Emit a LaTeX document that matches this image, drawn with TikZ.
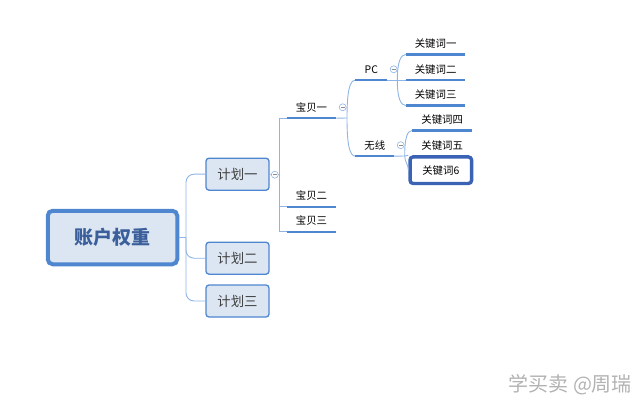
\documentclass[tikz,border=0pt]{standalone}
\usepackage{fontspec}
\setmainfont{Noto Sans CJK SC}
\definecolor{boxfill}{HTML}{DCE6F2}
\definecolor{boxline}{HTML}{4F86D0}
\definecolor{connline}{HTML}{8FB4E6}
\definecolor{rootink}{HTML}{3A5F9A}
\definecolor{pickline}{HTML}{3A62B5}
\tikzset{
  rootbox/.style={draw=boxline,fill=boxfill,line width=4pt,rounded corners=5pt,minimum width=129.5pt,minimum height=53.5pt,inner sep=0pt,text=rootink,font=\fontsize{19}{20}\selectfont\bfseries},
  planbox/.style={draw=boxline,fill=boxfill,line width=1.3pt,rounded corners=3pt,minimum width=63pt,minimum height=32pt,inner sep=0pt,text=black!75,font=\fontsize{13.4}{14}\selectfont},
  topic/.style={minimum height=21pt,inner sep=0pt,font=\fontsize{10.4}{11}\selectfont},
  pickbox/.style={draw=pickline,line width=3.4pt,rounded corners=3pt,minimum width=61.5pt,minimum height=26.5pt,inner sep=0pt,fill=white,font=\fontsize{10.4}{11}\selectfont},
  conn/.style={draw=connline,line width=0.9pt},
  under/.style={draw=boxline,line width=2.2pt},
  collapse/.style={circle,draw=connline,fill=white,line width=0.6pt,minimum size=7pt,inner sep=0pt,
    path picture={\draw[black!45,line width=0.5pt] ([xshift=-1.8pt]path picture bounding box.center)--([xshift=1.8pt]path picture bounding box.center);}}
}
\begin{document}
\begin{tikzpicture}[x=1pt,y=-1pt]
  \useasboundingbox (0,0) rectangle (640,401);
  \node[rootbox] (root) at (112.5,237.5) {账户权重};
  \node[planbox] (plana) at (237.5,174.2) {计划一};
  \node[planbox] (planb) at (237.5,258.2) {计划二};
  \node[planbox] (planc) at (237.5,301) {计划三};

  \node[topic,minimum width=49.4pt] (itema) at (311.5,107.5) {宝贝一};
  \node[topic,minimum width=49.4pt] (itemb) at (311.5,196) {宝贝二};
  \node[topic,minimum width=49.4pt] (itemc) at (311.5,221) {宝贝三};
  \node[topic,minimum width=31.3pt] (pc) at (371.3,69.5) {PC};
  \node[topic,minimum width=38.3pt] (wifi) at (374.8,145.5) {无线};

  \node[topic,minimum width=59.3pt] (worda) at (435.6,43.8) {关键词一};
  \node[topic,minimum width=59.3pt] (wordb) at (435.6,69.5) {关键词二};
  \node[topic,minimum width=59.3pt] (wordc) at (435.6,94.8) {关键词三};
  \node[topic,minimum width=59.6pt] (wordd) at (442.2,119.8) {关键词四};
  \node[topic,minimum width=59.6pt] (worde) at (442.2,145.5) {关键词五};

  \coordinate (rootbus) at (186,237.5);
  \coordinate (itembus) at (279.6,174.5);
  \coordinate (itemhub) at (347,118);
  \coordinate (pchub) at (397.3,80);
  \coordinate (wifihub) at (404.7,156);

  \draw[conn] (root.east)--(rootbus);
  \draw[conn,rounded corners=8pt] (rootbus) |- (plana.west);
  \draw[conn,rounded corners=8pt] (rootbus) |- (planb.west);
  \draw[conn,rounded corners=8pt] (rootbus) |- (planc.west);

  \draw[conn] (plana.east)--(itembus);
  \draw[conn] (itema.south west) -| (itembus |- itemc.south west) -- (itemc.south west);
  \draw[conn] (itembus |- itemb.south west)--(itemb.south west);

  \draw[conn] (itema.south east)--(itemhub);
  \draw[conn] (itemhub) .. controls +(0,-26) and +(-6,0) .. (pc.south west);
  \draw[conn] (itemhub) .. controls +(0,26) and +(-6,0) .. (wifi.south west);

  \draw[conn] (pc.south east)--(wordb.south west);
  \draw[conn] (pchub) .. controls +(0,-18) and +(-5,0) .. (worda.south west);
  \draw[conn] (pchub) .. controls +(0,18) and +(-5,0) .. (wordc.south west);

  \draw[conn] (wifi.south east)--(wifihub);
  \node[pickbox] (wordf) at (440.8,170.2) {关键词6};
  \draw[conn] (wifihub)--(wordf.north west);
  \draw[conn] (wifihub) .. controls +(0,-18) and +(-5,0) .. (wordd.south west);
  \draw[conn] (wifihub) .. controls +(0,6) and +(0,-6) .. (wordf.west);

  \draw[under] (itema.south west)--(itema.south east);
  \draw[under] (itemb.south west)--(itemb.south east);
  \draw[under] (itemc.south west)--(itemc.south east);
  \draw[under] (pc.south west)--(pc.south east);
  \draw[under] (wifi.south west)--(wifi.south east);
  \draw[under] (worda.south west)--(worda.south east);
  \draw[under] (wordb.south west)--(wordb.south east);
  \draw[under] (wordc.south west)--(wordc.south east);
  \draw[under] (wordd.south west)--(wordd.south east);

  \node[collapse] (foldplan) at (274.8,174.7) {};
  \node[collapse] (folditem) at (342.7,107.3) {};
  \node[collapse] (foldpc) at (393.7,69.3) {};
  \node[collapse] (foldwifi) at (400.7,145.2) {};

  \node[text=black!30,font=\fontsize{20}{20}\selectfont,anchor=east] (mark) at (635.5,385) {学买卖 @周瑞};
\end{tikzpicture}
\end{document}
